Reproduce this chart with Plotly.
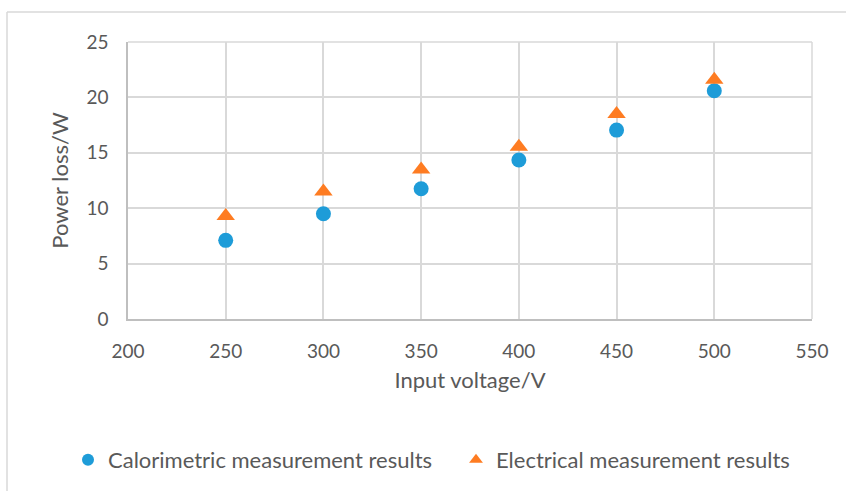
import plotly.graph_objects as go

voltage = [250, 300, 350, 400, 450, 500]
calorimetric = [7.1, 9.5, 11.75, 14.35, 17.05, 20.6]
electrical = [9.3, 11.5, 13.5, 15.55, 18.5, 21.6]
x_ticks = [200, 250, 300, 350, 400, 450, 500, 550]
y_ticks = [0, 5, 10, 15, 20, 25]

W, H = 846, 491
L, R, T, B = 128, 34, 42, 172
pw, ph = W - L - R, H - T - B

FONT = "Lato"
GRAY = "#595959"

fig = go.Figure()
fig.add_trace(go.Scatter(x=voltage, y=calorimetric, mode="markers",
                         name="Calorimetric measurement results", legend="legend",
                         marker=dict(symbol="circle", size=15, color="#1e9cd8")))
fig.add_trace(go.Scatter(x=voltage, y=electrical, mode="markers",
                         name="Electrical measurement results", legend="legend2",
                         marker=dict(symbol="triangle-up", size=16, color="#fe7c22")))

def px(xp):
    return (xp - L) / pw

def py(yp):
    return 1 - (yp - T) / ph

# outer chart frame (cropped on right/bottom)
fig.add_shape(type="line", xref="paper", yref="paper", x0=px(7), x1=px(860), y0=py(12), y1=py(12),
              line=dict(color="#d9d9d9", width=1.5))
fig.add_shape(type="line", xref="paper", yref="paper", x0=px(7), x1=px(7), y0=py(12), y1=py(500),
              line=dict(color="#d9d9d9", width=1.5))

legend_common = dict(orientation="h", xref="container", yref="container",
                     xanchor="left", y=(H - 460) / H, yanchor="middle",
                     font=dict(size=22, color=GRAY), bgcolor="rgba(0,0,0,0)",
                     itemsizing="constant", itemwidth=30)

fig.update_layout(
    width=W, height=H,
    margin=dict(l=L, r=R, t=T, b=B, autoexpand=False),
    paper_bgcolor="white", plot_bgcolor="white",
    font=dict(family=FONT, color=GRAY, size=18),
    showlegend=True,
    legend=dict(x=68 / W, **legend_common),
    legend2=dict(x=456 / W, **legend_common),
    xaxis=dict(range=[200, 550], tickvals=x_ticks, ticktext=[str(v) for v in x_ticks],
               showgrid=True, gridcolor="#d9d9d9", gridwidth=1.5,
               showline=True, linecolor="#bfbfbf", linewidth=1.5, mirror=False,
               zeroline=False, ticks="", ticklabelstandoff=14, tickangle=0, automargin=False,
               tickfont=dict(size=19, color=GRAY),
               title=dict(text="Input voltage/V", font=dict(size=22, color=GRAY), standoff=12)),
    yaxis=dict(range=[0, 25], tickvals=y_ticks, ticktext=[str(v) for v in y_ticks],
               showgrid=True, gridcolor="#d9d9d9", gridwidth=1.5,
               showline=True, linecolor="#bfbfbf", linewidth=1.5, automargin=False,
               zeroline=False, ticks="", ticklabelstandoff=14,
               tickfont=dict(size=19, color=GRAY),
               title=dict(text="Power loss/W", font=dict(size=22, color=GRAY), standoff=12)),
)
# top and right plot border
fig.add_shape(type="line", xref="paper", yref="paper", x0=0, x1=1, y0=1, y1=1,
              line=dict(color="#d9d9d9", width=1.5))
fig.add_shape(type="line", xref="paper", yref="paper", x0=1, x1=1, y0=0, y1=1,
              line=dict(color="#d9d9d9", width=1.5))

fig.write_html("out.html")
